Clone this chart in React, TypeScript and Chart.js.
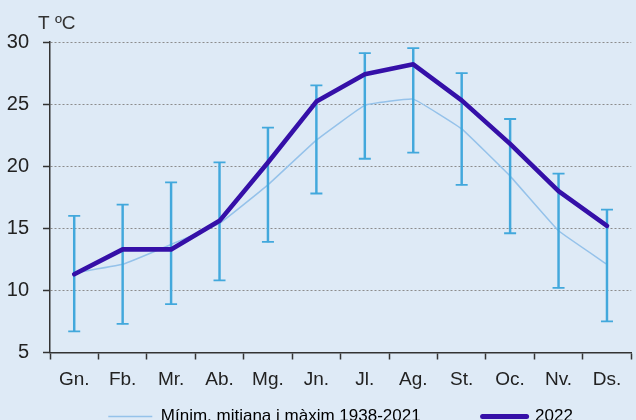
import React, { useEffect, useRef } from "react";
import { Chart, registerables } from "chart.js";

Chart.register(...registerables);

const months = ["Gn.", "Fb.", "Mr.", "Ab.", "Mg.", "Jn.", "Jl.", "Ag.", "St.", "Oc.", "Nv.", "Ds."];
const histMin = [6.7, 7.3, 8.9, 10.8, 13.9, 17.8, 20.6, 21.1, 18.5, 14.6, 10.2, 7.5];
const histMean = [11.4, 12.1, 13.7, 15.4, 18.5, 22.1, 24.9, 25.4, 23.0, 19.2, 14.8, 12.1];
const histMax = [16.0, 16.9, 18.7, 20.3, 23.1, 26.5, 29.1, 29.5, 27.5, 23.8, 19.4, 16.5];
const temp2022 = [11.3, 13.3, 13.3, 15.6, 20.3, 25.2, 27.4, 28.2, 25.3, 21.8, 18.0, 15.2];
const yMin = 5;
const yMax = 30;
const yStep = 5;
const histLabel = "Mínim, mitjana i màxim 1938-2021";
const label2022 = "2022";
const unitTitle = "T ºC";

const BG = "#deeaf6";
const FONT = "'Liberation Sans', Arial, sans-serif";
const C2022 = "#3510a8";
const CMEAN = "#95c2ea";
const CERR = "#42a8dc";
const AXIS = "#333333";

const unitTitlePlugin = {
  id: "unitTitle",
  afterDraw(chart: any) {
    const { ctx, chartArea } = chart;
    ctx.save();
    ctx.font = `19px ${FONT}`;
    ctx.fillStyle = AXIS;
    ctx.textAlign = "left";
    ctx.textBaseline = "alphabetic";
    ctx.fillText(unitTitle, chartArea.left - 12, chartArea.top - 13);
    ctx.restore();
  },
};

export default function App() {
  const ref = useRef<HTMLCanvasElement | null>(null);

  useEffect(() => {
    document.body.style.margin = "0";
    document.body.style.background = BG;
    const canvas = ref.current;
    if (!canvas) return;
    const chart = new Chart(canvas, {
      type: "line",
      data: {
        labels: months,
        datasets: [
          {
            type: "line",
            label: histLabel,
            data: histMean,
            borderColor: CMEAN,
            borderWidth: 1.5,
            pointRadius: 0,
            tension: 0.08,
            order: 3,
          },
          {
            type: "line",
            label: label2022,
            data: temp2022,
            borderColor: C2022,
            borderWidth: 4.6,
            pointRadius: 0,
            tension: 0,
            borderJoinStyle: "round",
            borderCapStyle: "round",
            order: 0,
          },
          {
            type: "bar",
            label: "range",
            data: months.map((_, i) => [histMin[i], histMax[i]]) as any,
            backgroundColor: CERR,
            borderWidth: 0,
            barThickness: 1.8,
            order: 1,
          },
          {
            type: "line",
            label: "max",
            data: histMax,
            showLine: false,
            pointStyle: "line",
            pointRadius: 6,
            pointBorderWidth: 1.8,
            pointBorderColor: CERR,
            pointBackgroundColor: CERR,
            order: 1,
          },
          {
            type: "line",
            label: "min",
            data: histMin,
            showLine: false,
            pointStyle: "line",
            pointRadius: 6,
            pointBorderWidth: 1.8,
            pointBorderColor: CERR,
            pointBackgroundColor: CERR,
            order: 1,
          },
        ],
      },
      options: {
        responsive: false,
        maintainAspectRatio: false,
        devicePixelRatio: 1,
        animation: false,
        layout: { padding: { left: 0, right: 0, top: 42, bottom: 0 } },
        plugins: {
          tooltip: { enabled: false },
          title: { display: false },
          legend: {
            position: "bottom",
            fullSize: false,
            labels: {
              usePointStyle: true,
              pointStyleWidth: 44,
              padding: 10,
              color: "#222",
              font: { family: FONT, size: 17 },
              generateLabels: () => [
                {
                  text: histLabel + "\u00a0".repeat(11),
                  pointStyle: "line",
                  strokeStyle: CMEAN,
                  fillStyle: CMEAN,
                  lineWidth: 1.5,
                  hidden: false,
                  datasetIndex: 0,
                } as any,
                {
                  text: label2022,
                  pointStyle: "line",
                  strokeStyle: C2022,
                  fillStyle: C2022,
                  lineWidth: 5,
                  lineCap: "round",
                  hidden: false,
                  datasetIndex: 1,
                } as any,
              ],
            },
          },
        },
        scales: {
          x: {
            type: "category",
            offset: true,
            grid: {
              offset: true,
              drawOnChartArea: false,
              drawTicks: true,
              tickLength: 7,
              tickColor: AXIS,
              tickWidth: 1.5,
            },
            border: { color: AXIS, width: 1.5 },
            ticks: {
              color: "#222",
              padding: 9,
              font: { family: FONT, size: 19 },
              maxRotation: 0,
              autoSkip: false,
            },
            afterFit: (scale: any) => {
              scale.height = 45.5;
            },
          },
          y: {
            min: yMin,
            max: yMax,
            grid: {
              color: "#8c8c8c",
              lineWidth: 1,
              tickLength: 7,
              tickColor: AXIS,
              tickWidth: 1.5,
            },
            border: { color: AXIS, width: 1.5, dash: [2, 2] },
            ticks: {
              stepSize: yStep,
              color: "#222",
              padding: 14,
              font: { family: FONT, size: 20 },
            },
            afterFit: (scale: any) => {
              scale.width = 50;
            },
          },
        },
      },
      plugins: [unitTitlePlugin],
    });
    return () => chart.destroy();
  }, []);

  return (
    <div
      style={{
        position: "fixed",
        left: 0,
        top: 0,
        width: 636,
        height: 420,
        overflow: "hidden",
        background: BG,
      }}
    >
      <canvas ref={ref} width={639} height={435} style={{ display: "block" }} />
    </div>
  );
}
